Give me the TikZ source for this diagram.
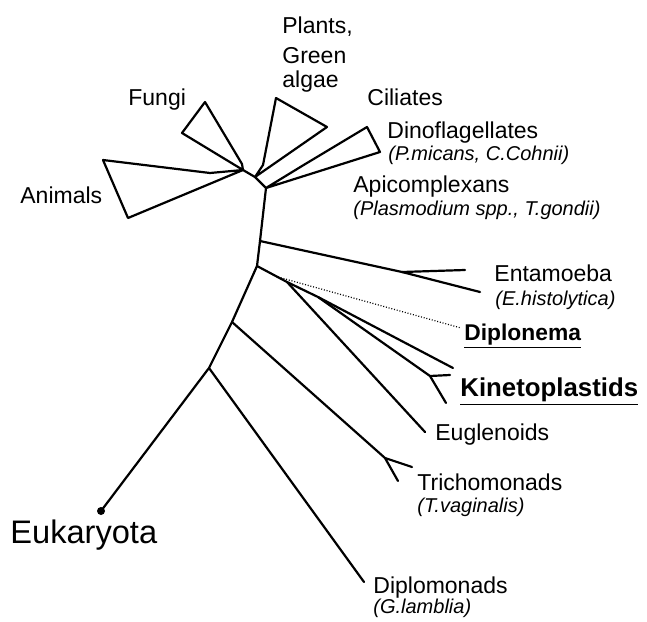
\documentclass[tikz,border=0pt]{standalone}
\usepackage{fontspec}
\setmainfont{Liberation Sans}
\usetikzlibrary{positioning}
\tikzset{
  branch/.style={line width=1.1pt,line cap=round,line join=round},
  cladetri/.style={branch},
  dotbranch/.style={line width=0.6pt,dash pattern=on 0.5pt off 0.9pt},
  rootdot/.style={circle,fill=black,inner sep=0pt,minimum size=4pt},
  taxon/.style={anchor=base west,inner sep=0pt,font=\fontsize{11.5}{13}\selectfont},
  sptaxon/.style={taxon,font=\fontsize{10}{12}\selectfont\itshape},
  newtaxon/.style={taxon,font=\fontsize{11.4}{13}\selectfont\bfseries},
  bigtaxon/.style={taxon,font=\fontsize{12.9}{15}\selectfont\bfseries},
}

\begin{document}
\begin{tikzpicture}[x=0.5pt,y=-0.5pt]
    \useasboundingbox (0,0) rectangle (647,621);
    % trunk
    \node[rootdot] (root) at (101,511) {};
    \coordinate (A) at (209,368);
    \coordinate (B) at (232,322);
    \coordinate (C) at (257,266);
    \coordinate (D) at (260,241);
    \coordinate (E) at (266,188);
    \coordinate (G) at (255,177);
    \coordinate (H) at (243,170);
    \draw[branch] (root.center) -- (A) -- (B) -- (C) -- (D) -- (E) -- (G) -- (H);
    % crown clades
    \coordinate (fA) at (242,164);
    \coordinate (f1) at (205,102);
    \coordinate (f2) at (182,133);
    \draw[cladetri] (H) -- (fA) -- (f1) -- (f2) -- cycle;
    \coordinate (aA) at (210,173);
    \coordinate (a1) at (103,160);
    \coordinate (a2) at (128,218);
    \draw[cladetri] (H) -- (aA) -- (a1) -- (a2) -- cycle;
    \coordinate (pA) at (263,165);
    \coordinate (p1) at (276,98);
    \coordinate (p2) at (327,127);
    \draw[cladetri] (G) -- (pA) -- (p1) -- (p2) -- cycle;
    \coordinate (cA) at (302,166);
    \coordinate (c1) at (367,127);
    \coordinate (c2) at (380,152);
    \draw[cladetri] (E) -- (cA) -- (c1) -- (c2) -- cycle;
    % Entamoeba
    \coordinate (enF) at (402,272);
    \coordinate (enE) at (480,292);
    \coordinate (en1) at (465,270);
    \draw[branch] (D) -- (enF) -- (enE);
    \draw[branch] (enF) -- (en1);
    % Euglenozoa
    \coordinate (K) at (287,282);
    \coordinate (K2) at (318,297);
    \coordinate (kU) at (453,368);
    \coordinate (kF) at (430,376);
    \coordinate (k1) at (450,375);
    \coordinate (k2) at (446,403);
    \coordinate (eug) at (425,432);
    \coordinate (dpS) at (278,277);
    \coordinate (dpE) at (461,328);
    \draw[branch] (C) -- (K) -- (K2) -- (kU);
    \draw[branch] (K2) -- (kF) -- (k1);
    \draw[branch] (kF) -- (k2);
    \draw[branch] (K) -- (eug);
    \draw[dotbranch] (dpS) -- (dpE);
    % Trichomonads, Diplomonads
    \coordinate (tF) at (385,458);
    \coordinate (t1) at (412,467);
    \coordinate (t2) at (398,481);
    \draw[branch] (B) -- (tF) -- (t1);
    \draw[branch] (tF) -- (t2);
    \coordinate (dmE) at (364,582);
    \draw[branch] (A) -- (dmE);
    % labels
    \node[taxon] (plants) at (282,33) {Plants,};
    \node[taxon] (green) at (282,63) {Green};
    \node[taxon] (algae) at (282,87) {algae};
    \node[taxon] (fungi) at (128,105) {Fungi};
    \node[taxon] (cil) at (367,105) {Ciliates};
    \node[taxon] (dino) at (387,138) {Dinoflagellates};
    \node[sptaxon] (dinosp) at (388,160) {(P.micans, C.Cohnii)};
    \node[taxon] (api) at (353,192) {Apicomplexans};
    \node[sptaxon] (apisp) at (353,215) {(Plasmodium spp., T.gondii)};
    \node[taxon] (anim) at (20,203) {Animals};
    \node[taxon] (ent) at (494,281) {Entamoeba};
    \node[sptaxon] (entsp) at (495,305) {(E.histolytica)};
    \node[newtaxon] (dipl) at (464,340) {\underline{Diplonema}};
    \node[bigtaxon] (kin) at (460,396) {\underline{Kinetoplastids}};
    \node[taxon] (eugl) at (435,440) {Euglenoids};
    \node[taxon] (tri) at (417,490) {Trichomonads};
    \node[sptaxon] (trisp) at (417,512) {(T.vaginalis)};
    \node[taxon] (dmon) at (373,593) {Diplomonads};
    \node[sptaxon] (dmonsp) at (373,613) {(G.lamblia)};
    \node[taxon,font=\fontsize{16.3}{19}\selectfont] (euk) at (10,543) {Eukaryota};
  \end{tikzpicture}
\end{document}
